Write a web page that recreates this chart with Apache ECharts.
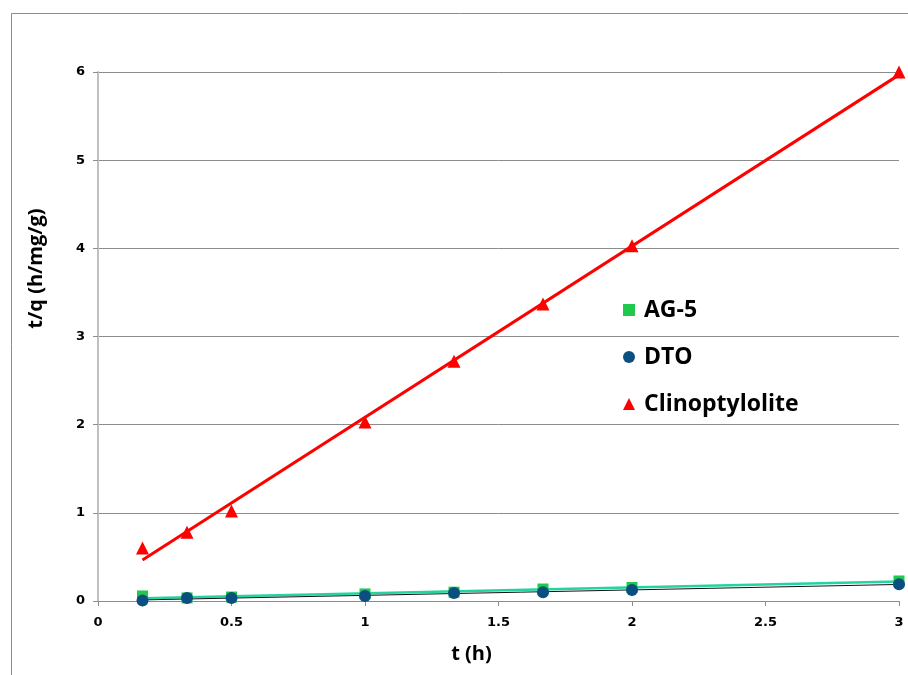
<!DOCTYPE html>
<html>
<head>
<meta charset="utf-8">
<script src="https://cdn.jsdelivr.net/npm/echarts@6/dist/echarts.min.js"></script>
<style>html,body{margin:0;padding:0;background:#fff;}#c{width:908px;height:675px;}</style>
</head>
<body>
<div id="c"></div>
<script>
const tValues = [1/6, 1/3, 0.5, 1, 4/3, 5/3, 2, 3];
const ag5 = [0.057, 0.035, 0.045, 0.08, 0.10, 0.136, 0.153, 0.227];
const dto = [0.005, 0.034, 0.034, 0.057, 0.09, 0.10, 0.125, 0.19];
const clino = [0.60, 0.78, 1.02, 2.03, 2.72, 3.37, 4.03, 6.00];
const seriesNames = ['AG-5', 'DTO', 'Clinoptylolite'];
const xTicks = ['0', '0.5', '1', '1.5', '2', '2.5', '3'];
const yTicks = ['0', '1', '2', '3', '4', '5', '6'];

function pts(ys) { return tValues.map((t, i) => [t, ys[i]]); }
function trend(ys) {
  const n = tValues.length;
  const mx = tValues.reduce((a, b) => a + b, 0) / n;
  const my = ys.reduce((a, b) => a + b, 0) / n;
  let sxy = 0, sxx = 0;
  for (let i = 0; i < n; i++) { sxy += (tValues[i] - mx) * (ys[i] - my); sxx += (tValues[i] - mx) ** 2; }
  const b = sxy / sxx, a = my - b * mx;
  const x0 = Math.min(...tValues), x1 = Math.max(...tValues);
  return [[x0, a + b * x0], [x1, a + b * x1]];
}

const chart = echarts.init(document.getElementById('c'), null, { renderer: 'canvas' });
const font = '"Open Sans", "DejaVu Sans", sans-serif';
const tickFont = '"DejaVu Sans", sans-serif';
chart.setOption({
  animation: false,
  backgroundColor: '#fff',
  graphic: [{
    type: 'rect', left: 9, top: 11, silent: true,
    shape: { x: 0.5, y: 0.5, width: 1000, height: 1000 },
    style: { fill: 'none', stroke: '#8c8c8c', lineWidth: 1 }
  }],
  grid: { left: 98, right: 9, top: 72, bottom: 74 },
  legend: {
    orient: 'vertical', left: 618, top: 292,
    itemWidth: 12, itemHeight: 12, itemGap: 21,
    data: [
      { name: seriesNames[0], icon: 'rect' },
      { name: seriesNames[1], icon: 'circle' },
      { name: seriesNames[2], icon: 'triangle' }
    ],
    textStyle: { fontFamily: font, fontWeight: 'bold', fontSize: 23, color: '#000', lineHeight: 26, padding: [0, 0, 0, 4] }
  },
  xAxis: {
    type: 'value', min: 0, max: 3, interval: 0.5,
    name: 't (h)', nameLocation: 'middle', nameGap: 43,
    nameTextStyle: { fontFamily: font, fontWeight: 'bold', fontSize: 20, color: '#000', padding: [0, 54, 0, 0] },
    axisLine: { show: true, onZero: false, lineStyle: { color: '#8c8c8c', width: 1 } },
    axisTick: { show: true, length: 5, lineStyle: { color: '#8c8c8c' } },
    axisLabel: { fontFamily: tickFont, fontWeight: 'bold', fontSize: 13, color: '#000', margin: 15,
      formatter: v => xTicks[Math.round(v / 0.5)] },
    splitLine: { show: false }
  },
  yAxis: {
    type: 'value', min: 0, max: 6, interval: 1,
    name: 't/q (h/mg/g)', nameLocation: 'middle', nameGap: 52,
    nameTextStyle: { fontFamily: font, fontWeight: 'bold', fontSize: 20, color: '#000', padding: [0, 0, 0, 136] },
    axisLine: { show: true, lineStyle: { color: '#c0c0c0', width: 2 } },
    axisTick: { show: true, length: 5, lineStyle: { color: '#8c8c8c' } },
    axisLabel: { fontFamily: tickFont, fontWeight: 'bold', fontSize: 13, color: '#000', margin: 13,
      formatter: v => yTicks[Math.round(v)] },
    splitLine: { show: true, lineStyle: { color: '#8c8c8c', width: 1 } }
  },
  series: [
    { name: 'trend-clino', type: 'line', data: trend(clino), symbol: 'none', z: 2,
      lineStyle: { color: '#ff0000', width: 3 }, silent: true },
    { name: 'trend-ag5', type: 'line', data: trend(ag5), symbol: 'none', z: 2,
      lineStyle: { color: '#22d4a0', width: 2.5 }, silent: true },
    { name: 'trend-dto', type: 'line', data: trend(dto), symbol: 'none', z: 2,
      lineStyle: { color: '#111', width: 1 }, silent: true },
    { name: seriesNames[0], type: 'scatter', data: pts(ag5), symbol: 'rect', symbolSize: 11, z: 3,
      itemStyle: { color: '#1ec94c', opacity: 1 } },
    { name: seriesNames[1], type: 'scatter', data: pts(dto), symbol: 'circle', symbolSize: 12, z: 4,
      itemStyle: { color: '#0b4f80', opacity: 1 } },
    { name: seriesNames[2], type: 'scatter', data: pts(clino), symbol: 'triangle', symbolSize: 13, z: 3,
      itemStyle: { color: '#ff0000', opacity: 1 } }
  ]
});
</script>
</body>
</html>
